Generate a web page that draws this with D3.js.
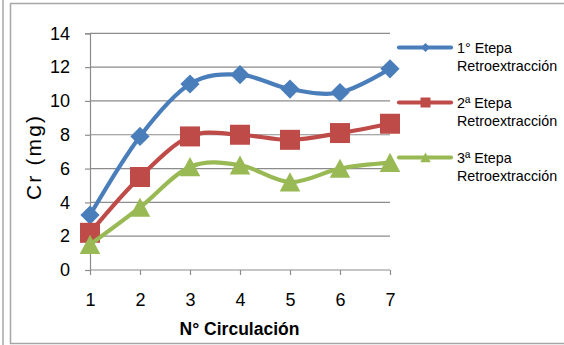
<!DOCTYPE html>
<html>
<head>
<meta charset="utf-8">
<script src="https://cdn.jsdelivr.net/npm/d3@7"></script>
<style>
  html, body { margin: 0; padding: 0; background: #fff; }
  svg { display: block; }
  text { font-family: "Liberation Sans", Arial, sans-serif; fill: #000; }
</style>
</head>
<body>
<svg id="chart" width="564" height="345"></svg>
<script>
// Circulation number (x categories)
const circulaciones = [1, 2, 3, 4, 5, 6, 7];
// Cr recovered (mg) per back-extraction stage
const etapa1 = [3.25, 7.9, 11.0, 11.55, 10.7, 10.5, 11.9];
const etapa2 = [2.2, 5.5, 7.9, 8.0, 7.7, 8.1, 8.65];
const etapa3 = [1.5, 3.7, 6.1, 6.2, 5.2, 6.0, 6.35];
const yTicks = [0, 2, 4, 6, 8, 10, 12, 14];
const serieNames = [
  ["1° Etepa", "Retroextracción"],
  ["2ª Etepa", "Retroextracción"],
  ["3ª Etepa", "Retroextracción"]
];

const series = [
  { name: serieNames[0], values: etapa1, color: "#4A7EBB", marker: "diamond" },
  { name: serieNames[1], values: etapa2, color: "#BE4B48", marker: "square" },
  { name: serieNames[2], values: etapa3, color: "#98B954", marker: "triangle" }
];

const svg = d3.select("#chart");

// frame lines around the chart object
svg.append("line").attr("x1", 3).attr("x2", 3).attr("y1", 0).attr("y2", 345)
  .attr("stroke", "#a6a6a6").attr("stroke-width", 1.5);
svg.append("path")
  .attr("d", "M566,3.5 H10.5 V343.5 H566")
  .attr("fill", "none").attr("stroke", "#a6a6a6").attr("stroke-width", 1.5);

const x = d3.scalePoint().domain(circulaciones).range([90, 390]);
const y = d3.scaleLinear().domain([0, 14]).range([270, 33.3]);

// horizontal gridlines
svg.append("g").selectAll("line")
  .data(yTicks.filter(d => d > 0))
  .join("line")
  .attr("x1", 90).attr("x2", 390)
  .attr("y1", d => y(d)).attr("y2", d => y(d))
  .attr("stroke", "#8c8c8c").attr("stroke-width", 1.2);

// y axis
const yAxis = svg.append("g").attr("transform", "translate(90,0)")
  .call(d3.axisLeft(y).tickValues(yTicks).tickSize(5).tickPadding(15).tickFormat(d3.format("d")));
yAxis.selectAll("path, line").attr("stroke", "#8c8c8c").attr("stroke-width", 1.2);
yAxis.selectAll("text").attr("font-size", 18).attr("font-family", "Liberation Sans, Arial, sans-serif").attr("fill", "#000");

// x axis
const xAxis = svg.append("g").attr("transform", "translate(0,270)")
  .call(d3.axisBottom(x).tickSize(5).tickPadding(18.5).tickSizeOuter(0));
xAxis.select(".domain").attr("d", "M90,0H390");
xAxis.selectAll("path, line").attr("stroke", "#8c8c8c").attr("stroke-width", 1.2);
xAxis.selectAll("text").attr("font-size", 18).attr("font-family", "Liberation Sans, Arial, sans-serif").attr("fill", "#000");

// axis titles
svg.append("text")
  .attr("transform", "translate(41,158) rotate(-90)")
  .attr("text-anchor", "middle")
  .attr("font-size", 21)
  .attr("textLength", 84).attr("lengthAdjust", "spacing")
  .text("Cr (mg)");

svg.append("text")
  .attr("x", 239.5).attr("y", 335)
  .attr("text-anchor", "middle")
  .attr("font-size", 17.5).attr("font-weight", "bold")
  .text("N° Circulación");

function markerPath(type, s) {
  if (type === "diamond") return `M0,${-s}L${s},0L0,${s}L${-s},0Z`;
  if (type === "square") return `M${-s},${-s}H${s}V${s}H${-s}Z`;
  // triangle
  return `M0,${-s}L${s * 1.05},${s * 0.95}H${-s * 1.05}Z`;
}
const markerSize = { diamond: 9.6, square: 10, triangle: 9.8 };
const legendMarkerSize = { diamond: 4.5, square: 5, triangle: 5 };

const line = d3.line()
  .x((d, i) => x(circulaciones[i]))
  .y(d => y(d))
  .curve(d3.curveCatmullRom.alpha(0));

const plot = svg.append("g");
series.forEach(s => {
  const g = plot.append("g");
  g.append("path")
    .attr("d", line(s.values))
    .attr("fill", "none")
    .attr("stroke", s.color)
    .attr("stroke-width", 4.2)
    .attr("stroke-linejoin", "round")
    .attr("stroke-linecap", "round");
  g.selectAll("path.m")
    .data(s.values)
    .join("path")
    .attr("class", "m")
    .attr("transform", (d, i) => `translate(${x(circulaciones[i])},${y(d)})`)
    .attr("d", markerPath(s.marker, markerSize[s.marker]))
    .attr("fill", s.color);
});

// legend
const legendY = [47.5, 102.5, 157.5];
const legend = svg.append("g");
series.forEach((s, i) => {
  const ly = legendY[i];
  legend.append("line")
    .attr("x1", 399).attr("x2", 451).attr("y1", ly).attr("y2", ly)
    .attr("stroke", s.color).attr("stroke-width", 4.2).attr("stroke-linecap", "round");
  legend.append("path")
    .attr("transform", `translate(425.5,${ly})`)
    .attr("d", markerPath(s.marker, legendMarkerSize[s.marker]))
    .attr("fill", s.color);
  const t = legend.append("text").attr("x", 457).attr("y", ly + 5).attr("font-size", 14.3);
  t.append("tspan").attr("x", 457).text(s.name[0]);
  t.append("tspan").attr("x", 457).attr("dy", 18.5).text(s.name[1]);
});
</script>
</body>
</html>
